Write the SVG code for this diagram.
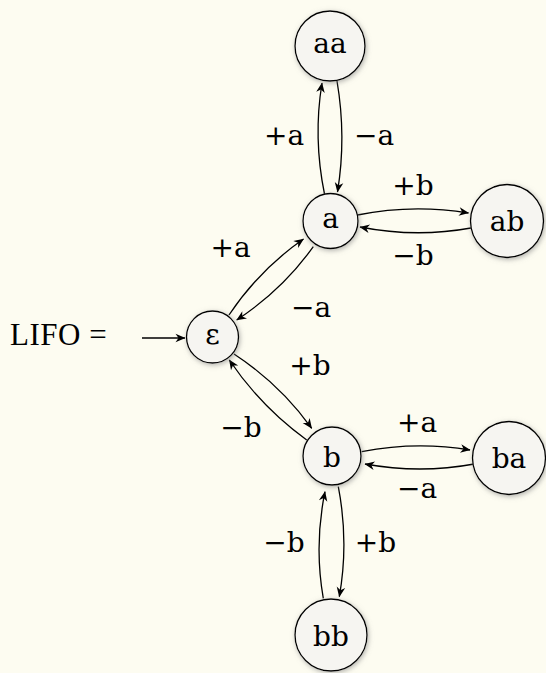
<svg xmlns="http://www.w3.org/2000/svg" width="546" height="673" viewBox="0 0 546 673">
<defs>
<style>
.node circle{fill:#f6f5f1;stroke:#000;stroke-width:1.3;filter:url(#sh)}
.node text,.lbl{font-family:"DejaVu Serif",serif;font-size:28px;text-anchor:middle;fill:#000}
.edge{fill:none;stroke:#000;stroke-width:1.3;marker-end:url(#arr)}
.title{font-family:"Liberation Serif",serif;font-size:31px;fill:#000;letter-spacing:0.5px}
</style>
<filter id="sh" x="-30%" y="-30%" width="160%" height="160%">
<feDropShadow dx="1" dy="1.5" stdDeviation="2.5" flood-color="#808080" flood-opacity="0.6"/>
</filter>
<marker id="arr" viewBox="-10 -5 11 10" refX="0" refY="0" markerWidth="11" markerHeight="10" markerUnits="userSpaceOnUse" orient="auto">
<path d="M0.5,0 L-9.5,-4.3 L-6.5,0 L-9.5,4.3 Z" fill="#000"/>
</marker>
</defs>
<rect width="546" height="673" fill="#fdfcf1"/>
<text class="title" x="10" y="345">LIFO =</text>
<g id="edges">
<path class="edge" d="M142,338 L185,338"/>
<path class="edge" d="M324.5,194 Q313,138 322,83"/>
<path class="edge" d="M337,81 Q346.5,137 337.5,192"/>
<path class="edge" d="M357.5,215 Q412,204 468.5,213"/>
<path class="edge" d="M471,228 Q416,238 360,227"/>
<path class="edge" d="M229,315 Q259,270 303.5,239"/>
<path class="edge" d="M313.3,246.7 Q282,290.4 236.7,320"/>
<path class="edge" d="M234,354 Q279.8,384 311.7,428.3"/>
<path class="edge" d="M306.7,440 Q261,407 229.3,360"/>
<path class="edge" d="M361.7,451.7 Q416,441 470,450"/>
<path class="edge" d="M474.3,464 Q420,474 365,464"/>
<path class="edge" d="M323.3,598.3 Q314,545 325,491.7"/>
<path class="edge" d="M338.3,486.7 Q349,542 339.3,596.7"/>
</g>
<g id="labels">
<text class="lbl" x="284" y="145">+a</text>
<text class="lbl" x="374" y="145">−a</text>
<text class="lbl" x="413" y="195">+b</text>
<text class="lbl" x="413" y="265">−b</text>
<text class="lbl" x="230.5" y="257">+a</text>
<text class="lbl" x="311" y="317">−a</text>
<text class="lbl" x="310" y="375">+b</text>
<text class="lbl" x="241" y="437">−b</text>
<text class="lbl" x="417" y="432">+a</text>
<text class="lbl" x="417" y="498">−a</text>
<text class="lbl" x="284" y="552">−b</text>
<text class="lbl" x="375.5" y="552">+b</text>
</g>
<g id="eps" class="node"><circle cx="212.5" cy="337" r="26"/><text x="212.5" y="344">ε</text></g>
<g id="a" class="node"><circle cx="330.5" cy="221" r="27.5"/><text x="330.5" y="228">a</text></g>
<g id="aa" class="node"><circle cx="330" cy="46" r="35"/><text x="330" y="53">aa</text></g>
<g id="ab" class="node"><circle cx="507" cy="221" r="36.5"/><text x="507" y="231">ab</text></g>
<g id="b" class="node"><circle cx="332" cy="456" r="29"/><text x="332" y="466.5">b</text></g>
<g id="ba" class="node"><circle cx="509" cy="458" r="36.5"/><text x="509" y="468">ba</text></g>
<g id="bb" class="node"><circle cx="331" cy="635" r="36"/><text x="331" y="646">bb</text></g>
</svg>
